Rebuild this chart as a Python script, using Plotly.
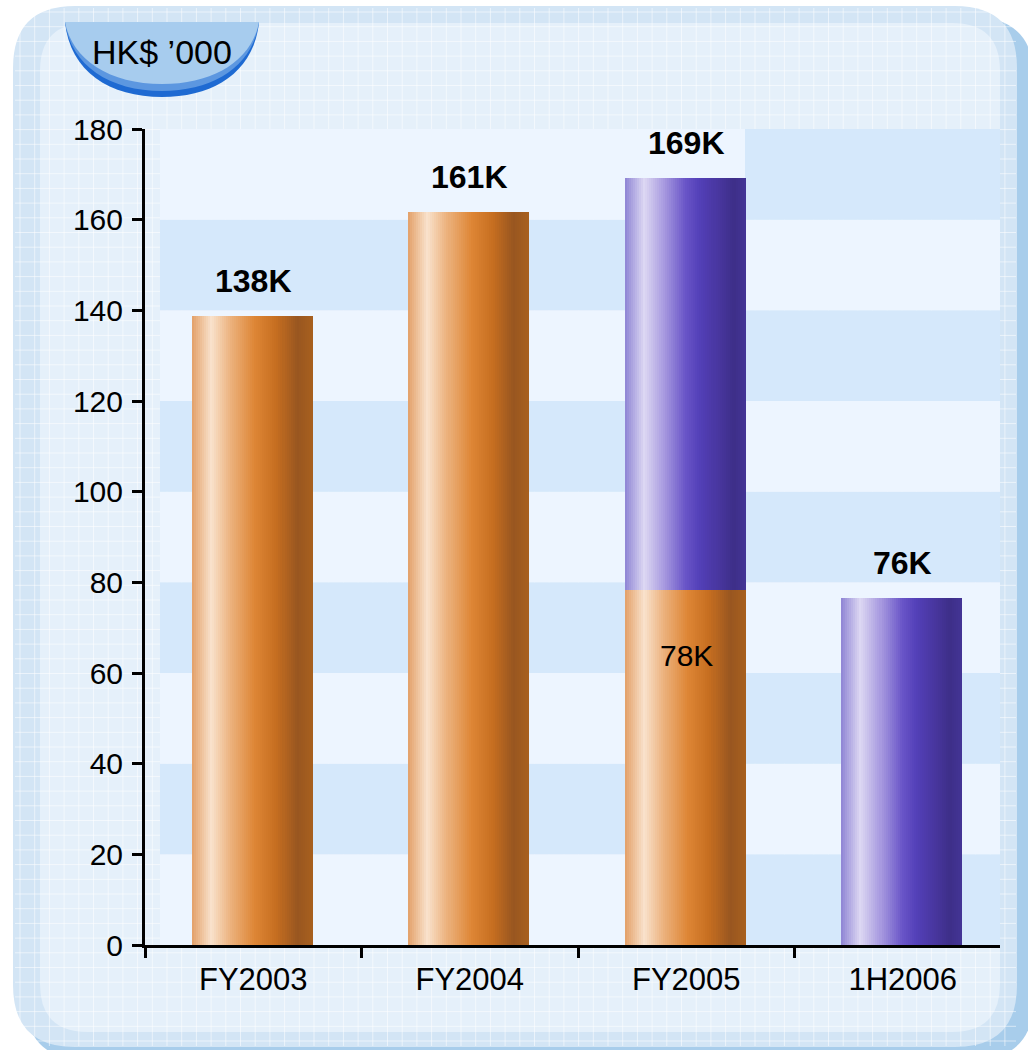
import plotly.graph_objects as go

# ---------------- data ----------------
categories = ["FY2003", "FY2004", "FY2005", "1H2006"]
orange_values = [138.7, 161.8, 78.3, 0.0]      # HK$ '000
purple_values = [0.0, 0.0, 91.0, 76.6]         # stacked on top of orange
total_labels = ["138K", "161K", "169K", "76K"]
segment_label = "78K"                          # inside FY2005 orange part
unit_label = "HK$ \u2019000"
y_ticks = [0, 20, 40, 60, 80, 100, 120, 140, 160, 180]

# ---------------- styling helpers ----------------
FONT = "Liberation Sans, Arial, sans-serif"
W, H = 1028, 1050
ML, MR, MT, MB = 145, 28, 129, 105
PW, PH = W - ML - MR, H - MT - MB


def X(p):
    return (p - ML) / PW


def Y(p):
    return (H - MB - p) / PH


def hex2rgb(h):
    h = h.lstrip("#")
    return tuple(int(h[i:i + 2], 16) for i in (0, 2, 4))


def interp(stops, t):
    for (p0, c0), (p1, c1) in zip(stops[:-1], stops[1:]):
        if p0 <= t <= p1:
            f = (t - p0) / (p1 - p0) if p1 > p0 else 0
            a, b = hex2rgb(c0), hex2rgb(c1)
            return "rgb(%d,%d,%d)" % tuple(round(a[i] + (b[i] - a[i]) * f) for i in range(3))
    return stops[-1][1]


orange_stops = [(0.0, "#E3A068"), (0.16, "#F9E2CC"), (0.32, "#ECB27E"),
                (0.52, "#DE8636"), (0.70, "#C66E20"), (0.87, "#985620"), (1.0, "#A8601E")]
purple_stops = [(0.0, "#8E84D4"), (0.16, "#DDD8F3"), (0.33, "#A698DF"),
                (0.50, "#6A56C8"), (0.62, "#5340B8"), (0.80, "#46349A"),
                (0.90, "#3D2F88"), (1.0, "#443496")]

BAR_W = 0.56
N = 60
step = BAR_W / N
center_shift = -0.005

fig = go.Figure()
for k in range(N):
    t = (k + 0.5) / N
    off = -BAR_W / 2 + k * step + center_shift
    wid = step * 1.8 if k < N - 1 else step
    fig.add_trace(go.Bar(
        x=categories, y=orange_values, base=[0] * len(categories),
        offset=off, width=wid, marker=dict(color=interp(orange_stops, t), line=dict(width=0)),
        hoverinfo="skip", showlegend=False))
    fig.add_trace(go.Bar(
        x=categories, y=purple_values, base=orange_values,
        offset=off, width=wid, marker=dict(color=interp(purple_stops, t), line=dict(width=0)),
        hoverinfo="skip", showlegend=False))

# ---------------- decorative background ----------------
def rrect(x0, y0, x1, y1, r):
    return (f"M {X(x0 + r)},{Y(y0)} L {X(x1 - r)},{Y(y0)} Q {X(x1)},{Y(y0)} {X(x1)},{Y(y0 + r)} "
            f"L {X(x1)},{Y(y1 - r)} Q {X(x1)},{Y(y1)} {X(x1 - r)},{Y(y1)} "
            f"L {X(x0 + r)},{Y(y1)} Q {X(x0)},{Y(y1)} {X(x0)},{Y(y1 - r)} "
            f"L {X(x0)},{Y(y0 + r)} Q {X(x0)},{Y(y0)} {X(x0 + r)},{Y(y0)} Z")


shapes = []
# shadow
shapes.append(dict(type="path", xref="paper", yref="paper", layer="below",
                   path=rrect(25, 17, 1034, 1060, 62), fillcolor="#A8CDEB", line=dict(width=0)))
# outer panel
shapes.append(dict(type="path", xref="paper", yref="paper", layer="below",
                   path=rrect(13, 6, 1017, 1047, 62), fillcolor="#D3E5F5", line=dict(width=0)))
# inner panel
shapes.append(dict(type="path", xref="paper", yref="paper", layer="below",
                   path=rrect(40, 23, 1000, 1032, 48), fillcolor="#E5F0FA", line=dict(width=0)))
# graph-paper grid
g = 14.7
xv = 20.0
while xv < 1017:
    shapes.append(dict(type="line", xref="paper", yref="paper", layer="below",
                       x0=X(xv), x1=X(xv), y0=Y(8), y1=Y(1046),
                       line=dict(color="rgba(255,255,255,0.55)", width=1)))
    xv += g
yv = 12.0
while yv < 1047:
    shapes.append(dict(type="line", xref="paper", yref="paper", layer="below",
                       x0=X(15), x1=X(1016), y0=Y(yv), y1=Y(yv),
                       line=dict(color="rgba(255,255,255,0.55)", width=1)))
    yv += g

# plot-area bands (pattern flips after the third bar)
LIGHT, DARK = "#EDF5FF", "#D5E8FB"
for j in range(len(y_ticks) - 1):
    a, b = y_ticks[j], y_ticks[j + 1]
    left_col = LIGHT if j % 2 == 0 else DARK
    right_col = DARK if j % 2 == 0 else LIGHT
    shapes.append(dict(type="rect", xref="paper", yref="y", layer="below",
                       x0=X(160), x1=X(745), y0=a, y1=b, fillcolor=left_col, line=dict(width=0)))
    shapes.append(dict(type="rect", xref="paper", yref="y", layer="below",
                       x0=X(745), x1=X(1000), y0=a, y1=b, fillcolor=right_col, line=dict(width=0)))

# unit badge (bowl)
shapes.append(dict(type="path", xref="paper", yref="paper", layer="above",
                   path=(f"M {X(65)},{Y(22)} C {X(70)},{Y(72)} {X(110)},{Y(97)} {X(162)},{Y(97)} "
                         f"C {X(214)},{Y(97)} {X(254)},{Y(72)} {X(259)},{Y(22)} Z"),
                   fillcolor="#1E6AD2", line=dict(width=0)))
shapes.append(dict(type="path", xref="paper", yref="paper", layer="above",
                   path=(f"M {X(65)},{Y(22)} C {X(71)},{Y(66)} {X(110)},{Y(91)} {X(162)},{Y(91)} "
                         f"C {X(214)},{Y(91)} {X(253)},{Y(66)} {X(259)},{Y(22)} Z"),
                   fillcolor="#5C97E0", line=dict(width=0)))
shapes.append(dict(type="path", xref="paper", yref="paper", layer="above",
                   path=(f"M {X(65)},{Y(22)} C {X(72)},{Y(60)} {X(110)},{Y(84)} {X(162)},{Y(84)} "
                         f"C {X(214)},{Y(84)} {X(252)},{Y(60)} {X(259)},{Y(22)} Z"),
                   fillcolor="#A7CCEE", line=dict(width=0)))

# ---------------- annotations ----------------
annotations = []
for i, c in enumerate(categories):
    total = orange_values[i] + purple_values[i]
    annotations.append(dict(x=c, y=total, xref="x", yref="y", text=f"<b>{total_labels[i]}</b>",
                            showarrow=False, yanchor="middle", yshift=35,
                            font=dict(family=FONT, size=32, color="black")))
annotations.append(dict(x=categories[2], y=orange_values[2], xref="x", yref="y", text=segment_label,
                        showarrow=False, yanchor="middle", yshift=-65,
                        font=dict(family=FONT, size=30, color="black")))
annotations.append(dict(x=X(162), y=Y(52), xref="paper", yref="paper", text=unit_label,
                        showarrow=False, xanchor="center", yanchor="middle",
                        font=dict(family=FONT, size=34, color="black")))

fig.update_layout(
    width=W, height=H,
    margin=dict(l=ML, r=MR, t=MT, b=MB, pad=0),
    paper_bgcolor="white", plot_bgcolor="rgba(0,0,0,0)",
    barmode="overlay", bargap=0,
    showlegend=False,
    shapes=shapes, annotations=annotations,
    font=dict(family=FONT, size=30, color="black"),
)
fig.update_xaxes(
    type="category", range=[-0.5, 3.449], tickson="boundaries",
    showline=True, linewidth=3, linecolor="black",
    ticks="outside", ticklen=10, tickwidth=3, tickcolor="black",
    showgrid=False, zeroline=False, ticklabelstandoff=5,
    tickfont=dict(family=FONT, size=31, color="black"),
)
fig.update_yaxes(
    range=[0, 180], tickvals=y_ticks, ticktext=[str(v) for v in y_ticks],
    showline=True, linewidth=3, linecolor="black",
    ticks="outside", ticklen=10, tickwidth=3, tickcolor="black",
    showgrid=False, zeroline=False, ticklabelstandoff=3,
    tickfont=dict(family=FONT, size=30, color="black"),
)

fig.write_html("out.html")
